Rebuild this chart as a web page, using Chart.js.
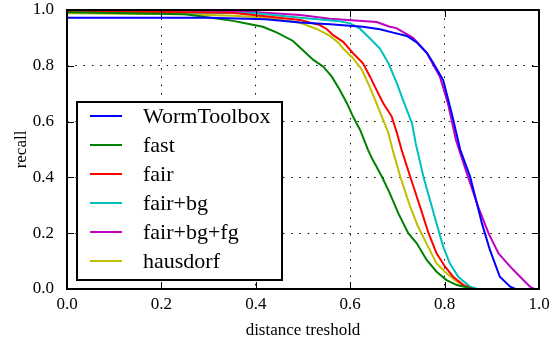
<!DOCTYPE html>
<html>
<head>
<meta charset="utf-8">
<script src="https://cdn.jsdelivr.net/npm/chart.js@4/dist/chart.umd.min.js"></script>
<style>
  html, body { margin: 0; padding: 0; background: #fff; }
  #wrap { width: 554px; height: 341px; }
</style>
</head>
<body>
<div id="wrap"><canvas id="recallChart"></canvas></div>
<script>
"use strict";

const seriesNames = ["WormToolbox", "fast", "fair", "fair+bg", "fair+bg+fg", "hausdorf"];
const seriesColors = ["#0000ff", "#008000", "#ff0000", "#00bfbf", "#bf00bf", "#bfbf00"];
const tickValues = [0.0, 0.2, 0.4, 0.6, 0.8, 1.0];

const wormX = [0, 0.3, 0.42, 0.494, 0.557, 0.627, 0.663, 0.691, 0.72, 0.741, 0.763, 0.776, 0.797, 0.815, 0.833, 0.854, 0.879, 0.896, 0.917, 0.939, 0.95, 1.0];
const wormY = [0.972, 0.972, 0.967, 0.955, 0.949, 0.94, 0.931, 0.919, 0.907, 0.884, 0.845, 0.81, 0.749, 0.63, 0.5, 0.403, 0.236, 0.14, 0.044, 0.008, 0, 0];

const fastX = [0, 0.25, 0.282, 0.352, 0.388, 0.415, 0.445, 0.479, 0.494, 0.522, 0.543, 0.561, 0.578, 0.593, 0.606, 0.621, 0.638, 0.648, 0.667, 0.684, 0.702, 0.723, 0.741, 0.762, 0.783, 0.804, 0.826, 0.847, 0.86, 1.0];
const fastY = [0.992, 0.985, 0.978, 0.961, 0.949, 0.94, 0.919, 0.889, 0.865, 0.821, 0.797, 0.761, 0.713, 0.666, 0.618, 0.57, 0.498, 0.462, 0.403, 0.343, 0.271, 0.2, 0.164, 0.104, 0.062, 0.032, 0.014, 0.006, 0, 0];

const fairX = [0, 0.35, 0.42, 0.494, 0.536, 0.55, 0.564, 0.585, 0.606, 0.627, 0.642, 0.656, 0.67, 0.688, 0.699, 0.709, 0.727, 0.748, 0.766, 0.783, 0.801, 0.818, 0.84, 0.86, 1.0];
const fairY = [0.996, 0.99, 0.978, 0.964, 0.946, 0.932, 0.91, 0.886, 0.845, 0.809, 0.761, 0.713, 0.666, 0.618, 0.559, 0.498, 0.403, 0.295, 0.2, 0.128, 0.08, 0.044, 0.014, 0, 0];

const fairBgX = [0, 0.4, 0.494, 0.578, 0.6, 0.62, 0.642, 0.663, 0.681, 0.699, 0.712, 0.731, 0.739, 0.755, 0.773, 0.783, 0.797, 0.811, 0.829, 0.854, 0.87, 1.0];
const fairBgY = [0.995, 0.988, 0.972, 0.96, 0.952, 0.934, 0.898, 0.862, 0.809, 0.737, 0.677, 0.594, 0.52, 0.403, 0.295, 0.235, 0.152, 0.092, 0.044, 0.008, 0, 0];

const fairBgFgX = [0, 0.394, 0.494, 0.557, 0.656, 0.684, 0.698, 0.733, 0.762, 0.79, 0.807, 0.824, 0.847, 0.871, 0.893, 0.914, 0.939, 0.96, 0.981, 0.99, 1.0];
const fairBgFgY = [0.996, 0.993, 0.982, 0.969, 0.957, 0.94, 0.935, 0.9, 0.847, 0.761, 0.666, 0.534, 0.415, 0.295, 0.2, 0.128, 0.08, 0.044, 0.008, 0, 0];

const hausX = [0, 0.25, 0.35, 0.42, 0.494, 0.529, 0.557, 0.575, 0.585, 0.606, 0.625, 0.638, 0.653, 0.667, 0.681, 0.69, 0.706, 0.727, 0.744, 0.765, 0.783, 0.804, 0.826, 0.847, 0.86, 1.0];
const hausY = [0.988, 0.985, 0.979, 0.973, 0.954, 0.932, 0.907, 0.883, 0.862, 0.827, 0.785, 0.737, 0.677, 0.618, 0.559, 0.498, 0.403, 0.295, 0.223, 0.152, 0.092, 0.056, 0.026, 0.008, 0, 0];

const seriesX = [wormX, fastX, fairX, fairBgX, fairBgFgX, hausX];
const seriesY = [wormY, fastY, fairY, fairBgY, fairBgFgY, hausY];

const serif = "'Liberation Serif', 'Times New Roman', serif";

function toPoints(xs, ys) {
  return xs.map((x, i) => ({ x: x, y: ys[i] }));
}

// frame with inward ticks on all four sides
const framePlugin = {
  id: "frame",
  afterDatasetsDraw(chart) {
    const { ctx, chartArea: a, scales } = chart;
    ctx.save();
    ctx.strokeStyle = "#000";
    ctx.lineWidth = 1;
    ctx.beginPath();
    tickValues.forEach((v) => {
      const px = Math.round(scales.x.getPixelForValue(v)) + 0.5;
      const py = Math.round(scales.y.getPixelForValue(v)) + 0.5;
      ctx.moveTo(px, a.bottom); ctx.lineTo(px, a.bottom - 7);
      ctx.moveTo(px, a.top); ctx.lineTo(px, a.top + 7);
      ctx.moveTo(a.left, py); ctx.lineTo(a.left + 7, py);
      ctx.moveTo(a.right, py); ctx.lineTo(a.right - 7, py);
    });
    ctx.stroke();
    ctx.lineWidth = 2;
    ctx.strokeRect(a.left, a.top, a.right - a.left, a.bottom - a.top);
    ctx.restore();
  },
};

// matplotlib-like boxed legend in lower left of the axes
const boxLegendPlugin = {
  id: "boxLegend",
  afterDraw(chart) {
    const { ctx, chartArea: a } = chart;
    const boxX = a.left + 10;
    const boxY = a.bottom - 187;
    const boxW = 205;
    const boxH = 178;
    ctx.save();
    ctx.fillStyle = "#fff";
    ctx.fillRect(boxX, boxY, boxW, boxH);
    ctx.strokeStyle = "#000";
    ctx.lineWidth = 2;
    ctx.strokeRect(boxX, boxY, boxW, boxH);
    ctx.font = "22px " + serif;
    ctx.textBaseline = "middle";
    ctx.textAlign = "left";
    chart.data.datasets.forEach((ds, i) => {
      const cy = boxY + 14 + i * 29;
      ctx.strokeStyle = ds.borderColor;
      ctx.lineWidth = 2;
      ctx.beginPath();
      ctx.moveTo(boxX + 13, cy);
      ctx.lineTo(boxX + 45, cy);
      ctx.stroke();
      ctx.fillStyle = "#000";
      ctx.fillText(ds.label, boxX + 66, cy + 1);
    });
    ctx.restore();
  },
};

const datasets = seriesNames.map((name, i) => ({
  label: name,
  data: toPoints(seriesX[i], seriesY[i]),
  borderColor: seriesColors[i],
  backgroundColor: seriesColors[i],
  borderWidth: 2,
  pointRadius: 0,
  tension: 0,
  fill: false,
}));

const gridStyle = {
  color: "#000",
  lineWidth: 1,
  drawTicks: false,
  borderDash: [1.5, 6.8],
};

new Chart(document.getElementById("recallChart"), {
  type: "line",
  data: { datasets: datasets },
  options: {
    responsive: true,
    maintainAspectRatio: false,
    animation: false,
    layout: { padding: { left: 11, right: 15, top: 10, bottom: 0 } },
    plugins: { legend: { display: false }, tooltip: { enabled: false } },
    scales: {
      x: {
        type: "linear",
        min: 0,
        max: 1,
        afterBuildTicks: (scale) => { scale.ticks = tickValues.map((v) => ({ value: v })); },
        afterFit: (scale) => {
          scale.height = 52;
          scale.paddingLeft = 0;
          scale.paddingRight = 0;
        },
        grid: gridStyle,
        border: { display: false, dash: [1.5, 6.8] },
        ticks: {
          color: "#000",
          padding: 5,
          maxRotation: 0,
          font: { family: serif, size: 17 },
          callback: (v) => Number(v).toFixed(1),
        },
        title: {
          display: true,
          text: "distance treshold",
          color: "#000",
          padding: 0,
          font: { family: serif, size: 17 },
        },
      },
      y: {
        type: "linear",
        min: 0,
        max: 1,
        afterBuildTicks: (scale) => { scale.ticks = tickValues.map((v) => ({ value: v })); },
        afterFit: (scale) => {
          scale.width = 56;
          scale.paddingTop = 0;
          scale.paddingBottom = 0;
        },
        grid: gridStyle,
        border: { display: false, dash: [1.5, 6.8] },
        ticks: {
          color: "#000",
          padding: 13,
          font: { family: serif, size: 17 },
          callback: (v) => Number(v).toFixed(1),
        },
        title: {
          display: true,
          text: "recall",
          color: "#000",
          padding: 0,
          font: { family: serif, size: 17 },
        },
      },
    },
  },
  plugins: [framePlugin, boxLegendPlugin],
});
</script>
</body>
</html>
